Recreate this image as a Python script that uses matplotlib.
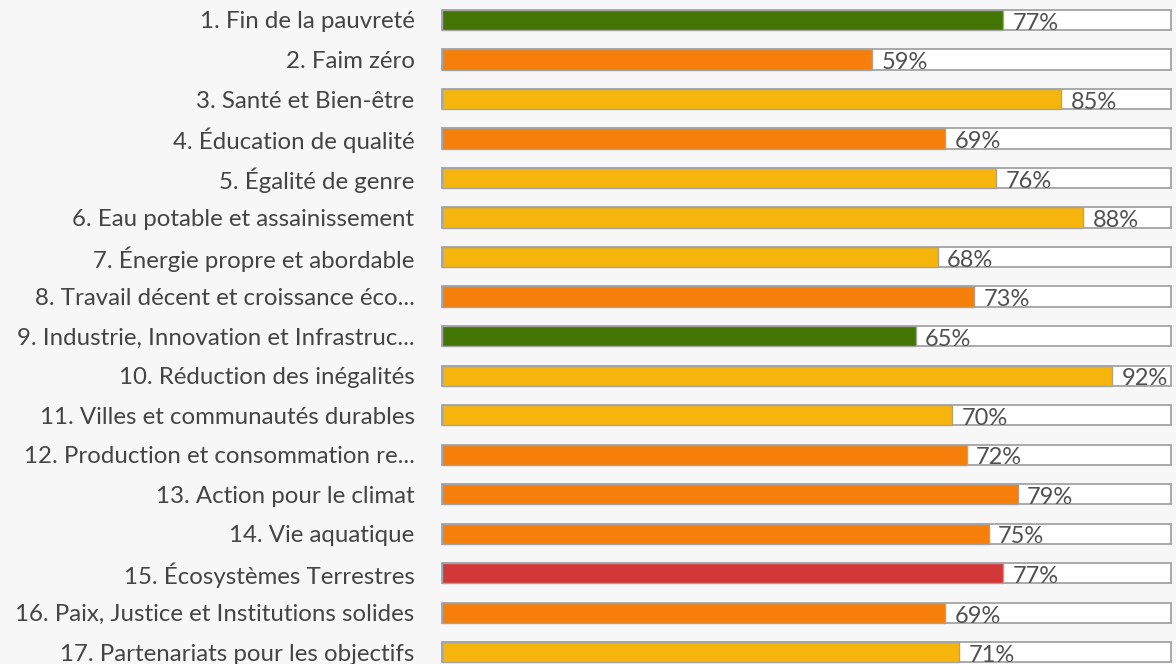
import matplotlib.pyplot as plt
from matplotlib.patches import Rectangle

labels = [
    "1. Fin de la pauvreté",
    "2. Faim zéro",
    "3. Santé et Bien-être",
    "4. Éducation de qualité",
    "5. Égalité de genre",
    "6. Eau potable et assainissement",
    "7. Énergie propre et abordable",
    "8. Travail décent et croissance éco...",
    "9. Industrie, Innovation et Infrastruc...",
    "10. Réduction des inégalités",
    "11. Villes et communautés durables",
    "12. Production et consommation re...",
    "13. Action pour le climat",
    "14. Vie aquatique",
    "15. Écosystèmes Terrestres",
    "16. Paix, Justice et Institutions solides",
    "17. Partenariats pour les objectifs",
]
values = [77, 59, 85, 69, 76, 88, 68, 73, 65, 92, 70, 72, 79, 75, 77, 69, 71]
status = ["green", "orange", "yellow", "orange", "yellow", "yellow", "yellow",
          "orange", "green", "yellow", "yellow", "orange", "orange", "orange",
          "red", "orange", "yellow"]

colors = {"green": "#437505", "orange": "#f57f0a", "yellow": "#f5b50c", "red": "#d43737"}

plt.rcParams['font.family'] = ['Lato', 'DejaVu Sans']

fig = plt.figure(figsize=(11.76, 6.64), dpi=100, facecolor="#f7f7f7")
ax = fig.add_axes([0.375, 0, 0.6216, 1])
ax.set_facecolor("#f7f7f7")

h = 0.51
for i, (v, s) in enumerate(zip(values, status)):
    ax.add_patch(Rectangle((0, i - h / 2), 100, h, facecolor="white",
                           edgecolor="#a3a3a3", linewidth=1.3, zorder=1))
    ax.add_patch(Rectangle((0, i - h / 2), v, h, facecolor=colors[s],
                           edgecolor="#a3a3a3", linewidth=1.0, zorder=2))
    ax.text(v + 1.3, i + 0.25, f"{v}%", ha="left", va="baseline",
            fontsize=17, color="#505050", zorder=3)

ax.set_xlim(-0.2, 100.2)
ax.set_ylim(16.30, -0.506)
ax.set_yticks(range(len(labels)))
ax.set_yticklabels(labels, fontsize=17.3, color="#444444")
ax.tick_params(axis="y", length=0, pad=19)
ax.set_xticks([])
for sp in ax.spines.values():
    sp.set_visible(False)

fig.savefig("out.png", dpi=100, facecolor=fig.get_facecolor())
